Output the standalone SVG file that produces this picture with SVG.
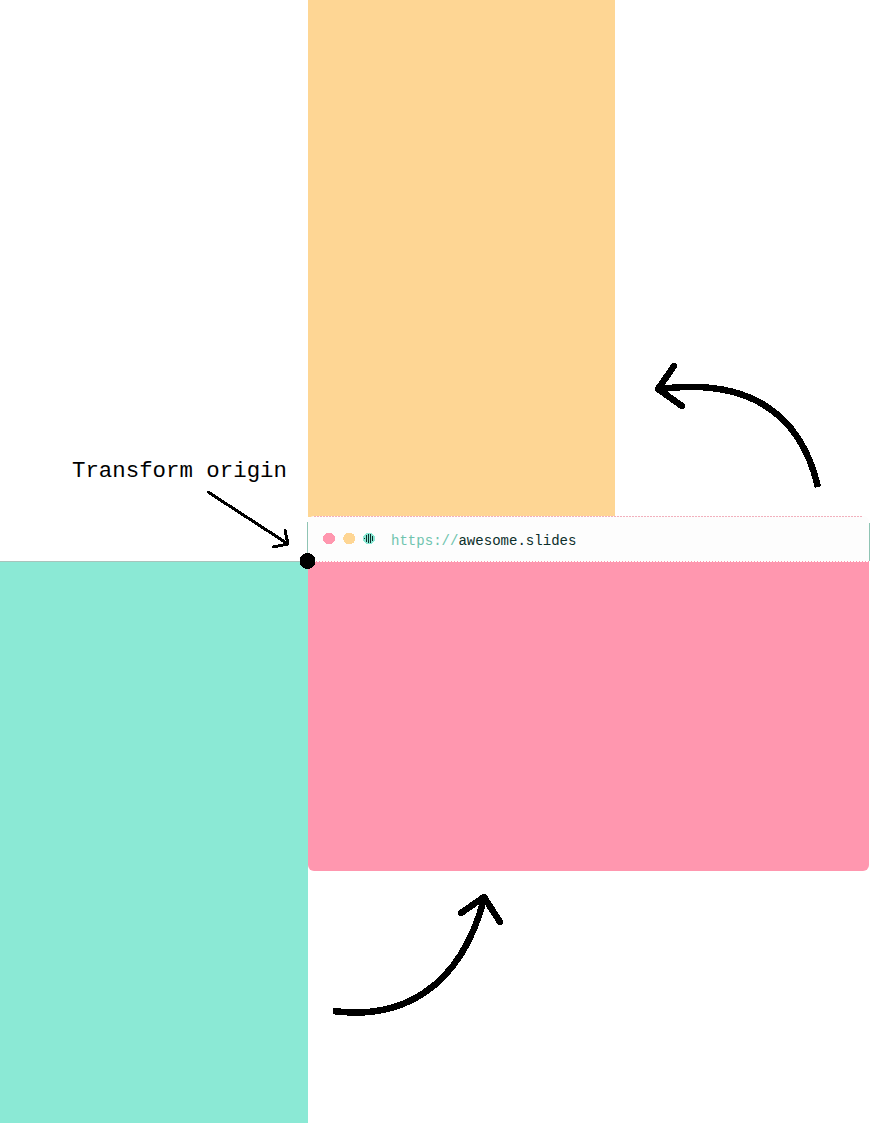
<svg xmlns="http://www.w3.org/2000/svg" width="880" height="1123" viewBox="0 0 880 1123">
<defs>
<style>
.arrow{fill:none;stroke:#000;stroke-linecap:round;stroke-linejoin:round;shape-rendering:crispEdges}
.big{stroke-width:6.500}
.butt{stroke-linecap:butt}
.dot{shape-rendering:crispEdges}
text{font-family:"Liberation Mono","DejaVu Sans Mono",monospace}
</style>
<pattern id="stripes" width="2" height="2" patternUnits="userSpaceOnUse"><rect width="2" height="2" fill="#8be9d5"/><rect width="1" height="2" fill="#0b2e2a"/></pattern>
</defs>
<rect width="880" height="1123" fill="#fff"/>
<g id="panel-yellow"><rect x="308" y="0" width="307" height="517" fill="#fed694"/></g>
<g id="panel-teal"><rect x="0" y="561" width="308" height="562" fill="#8be9d5"/><line x1="0" y1="561.500" x2="308" y2="561.500" stroke="#a8c4bc"/></g>
<g id="panel-pink"><path d="M308 561H869V865a6 6 0 0 1-6 6H314a6 6 0 0 1-6-6Z" fill="#ff97af"/></g>
<g id="browser-bar">
<path d="M308 561V522a6 6 0 0 1 6-6H863a6 6 0 0 1 6 6V561Z" fill="#fdfdfd"/>
<path d="M314 516.500H863" stroke="#f2b0bd" stroke-width="1" stroke-dasharray="2 1" fill="none"/>
<path d="M308 561.500H869" stroke="#fff" stroke-width="1" stroke-dasharray="2 1" fill="none"/>
<path d="M307.500 561V522M869.500 523V561" stroke="#8fc4b4" stroke-width="1" fill="none"/>
<circle class="dot" cx="329" cy="538.500" r="6" fill="#ff97af"/>
<circle class="dot" cx="349.300" cy="538.500" r="6" fill="#fed694"/>
<circle class="dot" cx="369" cy="538.500" r="6" fill="#8be9d5"/>
<circle class="dot" cx="369" cy="538.500" r="4.500" fill="url(#stripes)"/>
<text x="391" y="544.500" font-size="14.050" fill="#6fc4ae">https://<tspan fill="#0b2e2a">awesome.slides</tspan></text>
</g>
<g id="label-origin"><text x="72" y="476.500" font-size="22.400" fill="#000">Transform origin</text></g>
<g id="connectors">
<path class="arrow" stroke-width="3" d="M208 492L288 544M285 530L288 544L273 547"/>
<path class="arrow big butt" d="M818 487C800 410 745 378 660 389"/>
<path class="arrow big" d="M674 366L658 389L682 406"/>
<path class="arrow big butt" d="M333 1011C400 1020 460 990 484 899"/>
<path class="arrow big" d="M461 913L484 897L500 922"/>
</g>
<g id="origin-dot"><circle class="dot" cx="307.500" cy="561" r="8" fill="#000"/></g>
</svg>
